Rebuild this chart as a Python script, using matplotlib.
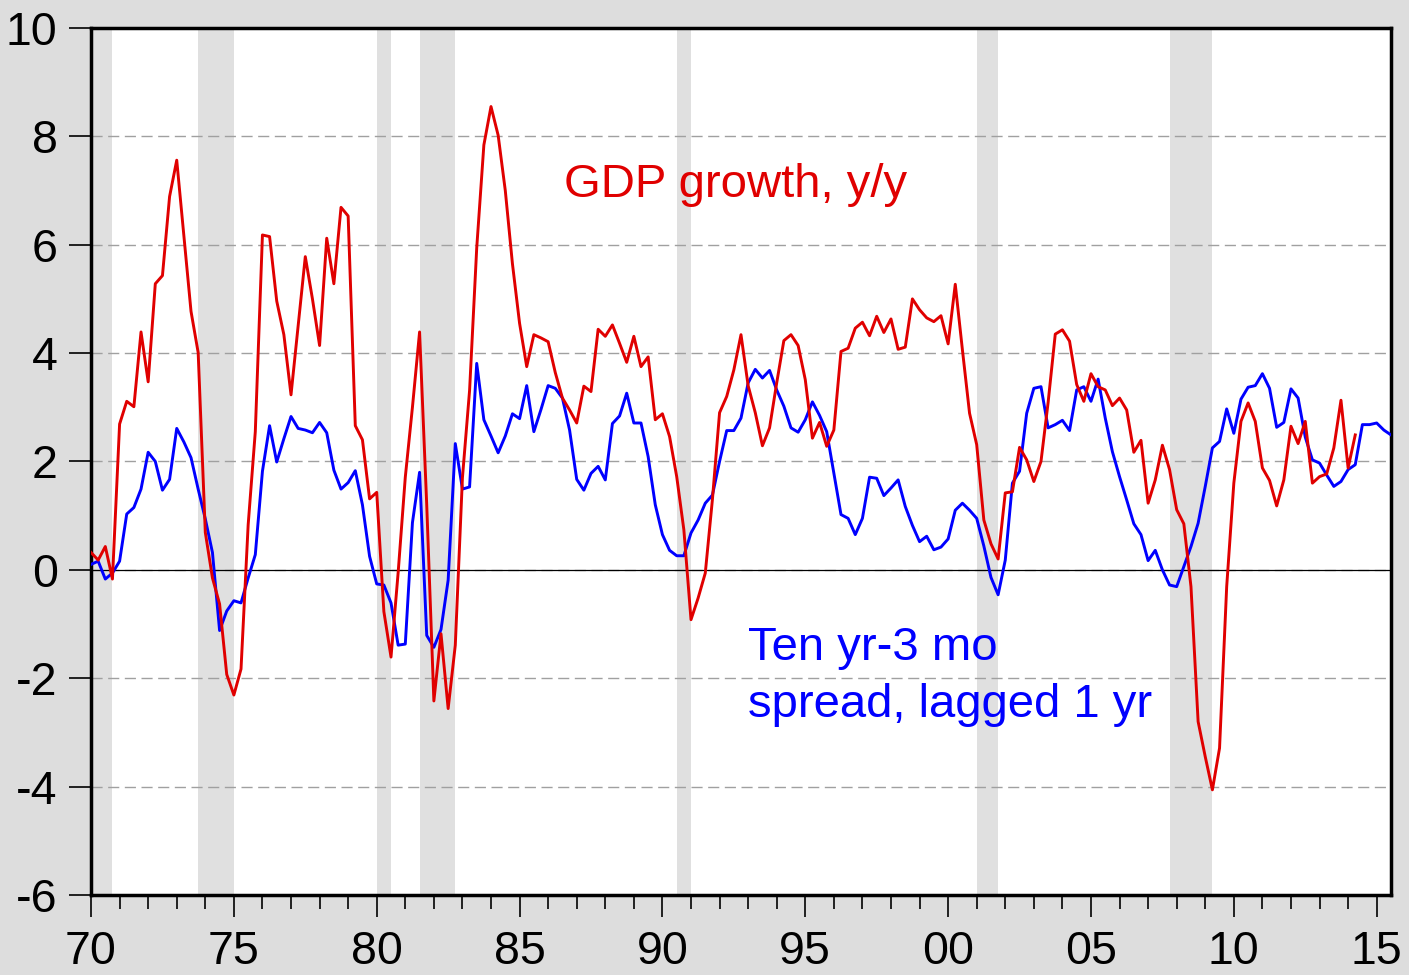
import numpy as np
import matplotlib
matplotlib.use("Agg")
import matplotlib.pyplot as plt
from matplotlib.ticker import MultipleLocator

# real GDP growth, y/y (%), quarterly from 1970Q1
gdp_growth = [
    0.32, 0.18, 0.43, -0.17,
    2.69, 3.11, 3.01, 4.39,
    3.47, 5.28, 5.43, 6.89,
    7.56, 6.16, 4.77, 4.01,
    0.69, -0.15, -0.63, -1.93,
    -2.31, -1.83, 0.83, 2.55,
    6.18, 6.15, 4.96, 4.34,
    3.23, 4.50, 5.78, 5.00,
    4.14, 6.12, 5.28, 6.69,
    6.53, 2.66, 2.40, 1.31,
    1.43, -0.77, -1.61, -0.05,
    1.71, 3.00, 4.39, 1.20,
    -2.42, -1.18, -2.56, -1.39,
    1.70, 3.31, 5.94, 7.84,
    8.55, 8.02, 7.00, 5.65,
    4.55, 3.75, 4.34, 4.28,
    4.21, 3.64, 3.17, 2.95,
    2.71, 3.39, 3.29, 4.44,
    4.31, 4.52, 4.18, 3.83,
    4.31, 3.75, 3.93, 2.77,
    2.88, 2.46, 1.72, 0.74,
    -0.92, -0.52, -0.06, 1.30,
    2.90, 3.20, 3.69, 4.34,
    3.40, 2.90, 2.29, 2.62,
    3.45, 4.23, 4.34, 4.14,
    3.51, 2.43, 2.72, 2.28,
    2.58, 4.03, 4.09, 4.46,
    4.57, 4.32, 4.68, 4.38,
    4.63, 4.07, 4.11, 5.00,
    4.80, 4.65, 4.58, 4.69,
    4.17, 5.27, 4.06, 2.89,
    2.31, 0.92, 0.48, 0.20,
    1.42, 1.44, 2.26, 2.03,
    1.63, 2.00, 3.09, 4.35,
    4.43, 4.22, 3.42, 3.11,
    3.62, 3.38, 3.32, 3.03,
    3.17, 2.95, 2.17, 2.39,
    1.23, 1.66, 2.30, 1.85,
    1.11, 0.85, -0.31, -2.80,
    -3.45, -4.06, -3.29, -0.31,
    1.60, 2.74, 3.08, 2.74,
    1.88, 1.65, 1.18, 1.66,
    2.65, 2.33, 2.74, 1.60,
    1.72, 1.77, 2.25, 3.13,
    1.88, 2.49,
]

# ten year minus 3 month spread, lagged 1 year (%), quarterly from 1970Q1
spread_lag = [
    0.10, 0.16, -0.17, -0.06,
    0.16, 1.03, 1.15, 1.49,
    2.17, 2.00, 1.47, 1.67,
    2.61, 2.36, 2.07, 1.49,
    0.94, 0.32, -1.12, -0.76,
    -0.57, -0.61, -0.15, 0.28,
    1.82, 2.66, 1.99, 2.42,
    2.83, 2.61, 2.58, 2.53,
    2.72, 2.53, 1.84, 1.49,
    1.61, 1.83, 1.20, 0.25,
    -0.26, -0.28, -0.61, -1.39,
    -1.37, 0.87, 1.80, -1.21,
    -1.43, -1.10, -0.19, 2.33,
    1.49, 1.53, 3.81, 2.77,
    2.47, 2.16, 2.47, 2.88,
    2.79, 3.40, 2.55, 2.96,
    3.40, 3.35, 3.17, 2.58,
    1.67, 1.47, 1.78, 1.91,
    1.66, 2.70, 2.84, 3.26,
    2.71, 2.71, 2.09, 1.20,
    0.65, 0.36, 0.26, 0.26,
    0.68, 0.92, 1.23, 1.38,
    2.00, 2.57, 2.57, 2.80,
    3.45, 3.70, 3.54, 3.68,
    3.32, 3.02, 2.62, 2.54,
    2.77, 3.10, 2.85, 2.55,
    1.78, 1.02, 0.95, 0.65,
    0.95, 1.71, 1.69, 1.37,
    1.51, 1.66, 1.17, 0.82,
    0.52, 0.62, 0.37, 0.42,
    0.57, 1.10, 1.23, 1.10,
    0.95, 0.44, -0.14, -0.46,
    0.18, 1.60, 1.82, 2.89,
    3.35, 3.38, 2.62, 2.68,
    2.76, 2.57, 3.32, 3.38,
    3.11, 3.52, 2.80, 2.18,
    1.72, 1.29, 0.85, 0.65,
    0.17, 0.36, 0.00, -0.28,
    -0.31, 0.06, 0.43, 0.86,
    1.54, 2.25, 2.37, 2.97,
    2.52, 3.15, 3.37, 3.40,
    3.62, 3.35, 2.63, 2.72,
    3.34, 3.17, 2.45, 2.03,
    1.97, 1.75, 1.54, 1.63,
    1.85, 1.94, 2.68, 2.68,
    2.71, 2.58, 2.49,
]

# NBER recessions (peak quarter start, trough quarter start)
rec_start = [1969.75, 1973.75, 1980.0, 1981.5, 1990.5, 2001.0, 2007.75]
rec_end = [1970.75, 1975.0, 1980.5, 1982.75, 1991.0, 2001.75, 2009.25]

year_ticks = list(range(1970, 2016, 5))
year_labels = ["70", "75", "80", "85", "90", "95", "00", "05", "10", "15"]

plt.rcParams["font.family"] = ["Liberation Sans", "DejaVu Sans"]
plt.rcParams["axes.unicode_minus"] = False

t_gdp = 1970 + np.arange(len(gdp_growth)) / 4
t_spr = 1970 + np.arange(len(spread_lag)) / 4

fig = plt.figure(figsize=(14.09, 9.75), dpi=100, facecolor="#dddddd")
ax = fig.add_axes([0.0646, 0.0821, 0.9226, 0.8892])
ax.set_facecolor("white")

for s, e in zip(rec_start, rec_end):
    ax.axvspan(s, e, color="#e0e0e0", lw=0, zorder=0.5)

ax.grid(axis="y", color="#a0a0a0", lw=1.0, ls=(0, (8, 4)))
ax.axhline(0, color="black", lw=0.9, zorder=1.6)

ax.plot(t_spr, spread_lag, color="#0000ff", lw=2.1, zorder=3)
ax.plot(t_gdp, gdp_growth, color="#e00000", lw=2.1, zorder=3)

ax.set_xlim(1970, 2015.5)
ax.set_ylim(-6, 10)
ax.set_yticks(range(-6, 11, 2))
ax.set_xticks(year_ticks)
ax.set_xticklabels(year_labels)
ax.xaxis.set_minor_locator(MultipleLocator(1))

for sp in ax.spines.values():
    sp.set_linewidth(2.5)
ax.tick_params(axis="both", which="major", labelsize=33.5, width=1.2, length=16,
               direction="out", color="black")
ax.tick_params(axis="x", which="major", pad=9)
ax.tick_params(axis="y", which="major", pad=8)
ax.tick_params(axis="x", which="minor", length=10, width=1.2)

ax.text(1986.55, 6.88, "GDP growth, y/y", color="#e00000", fontsize=34,
        ha="left", va="baseline", zorder=5)
ax.text(1993.0, -1.66, "Ten yr-3 mo", color="#0000ff", fontsize=34,
        ha="left", va="baseline", zorder=5)
ax.text(1993.0, -2.71, "spread, lagged 1 yr", color="#0000ff", fontsize=34,
        ha="left", va="baseline", zorder=5)

fig.savefig("out.png", dpi=100, facecolor=fig.get_facecolor())
